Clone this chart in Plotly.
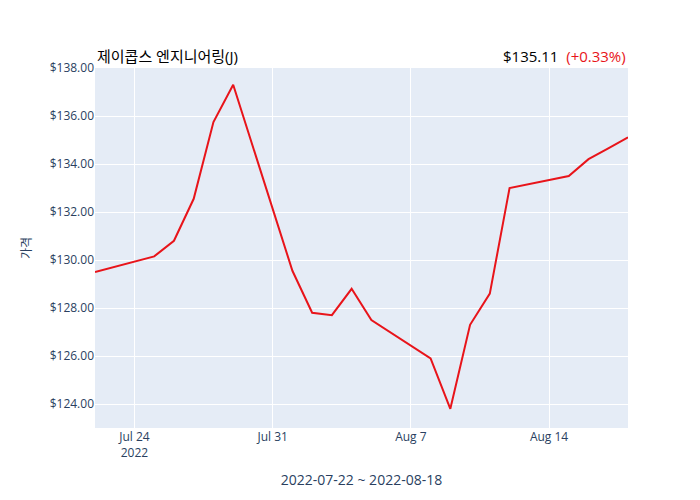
import plotly.graph_objects as go

dates = ["2022-07-22", "2022-07-25", "2022-07-26", "2022-07-27", "2022-07-28", "2022-07-29",
         "2022-08-01", "2022-08-02", "2022-08-03", "2022-08-04", "2022-08-05",
         "2022-08-08", "2022-08-09", "2022-08-10", "2022-08-11", "2022-08-12",
         "2022-08-15", "2022-08-16", "2022-08-17", "2022-08-18"]
prices = [129.50, 130.15, 130.80, 132.55, 135.75, 137.30,
          129.55, 127.80, 127.70, 128.80, 127.50,
          125.90, 123.80, 127.30, 128.60, 133.00,
          133.50, 134.20, 134.65, 135.11]

fig = go.Figure(go.Scatter(x=dates, y=prices, mode="lines",
                           line=dict(color="#e8141a", width=2)))

fig.update_layout(
    width=700, height=500,
    margin=dict(l=87, r=80, t=60, b=80, autoexpand=False),
    font=dict(family="Open Sans, Noto Sans CJK KR", color="#2a3f5f"),
    showlegend=False,
    xaxis=dict(title=dict(text="2022-07-22 ~ 2022-08-18", font=dict(size=14)),
               tickformat="%b %-d\n%Y", range=["2022-07-22", "2022-08-18"],
               automargin=False),
    yaxis=dict(title=dict(text="가격", font=dict(size=12)), tickprefix="$",
               tickformat=".2f", range=[123, 138], dtick=2, automargin=False),
    annotations=[
        dict(text="제이콥스 엔지니어링(J)", xref="paper", yref="paper", x=0, y=1.0,
             xanchor="left", yanchor="bottom", showarrow=False,
             font=dict(size=15, color="black")),
        dict(text="$135.11  <span style='color:#e8141a'>(+0.33%)</span>",
             xref="paper", yref="paper", x=1, y=1.0, xanchor="right",
             yanchor="bottom", showarrow=False, font=dict(size=15, color="black")),
    ],
)

fig.write_html("out.html")
